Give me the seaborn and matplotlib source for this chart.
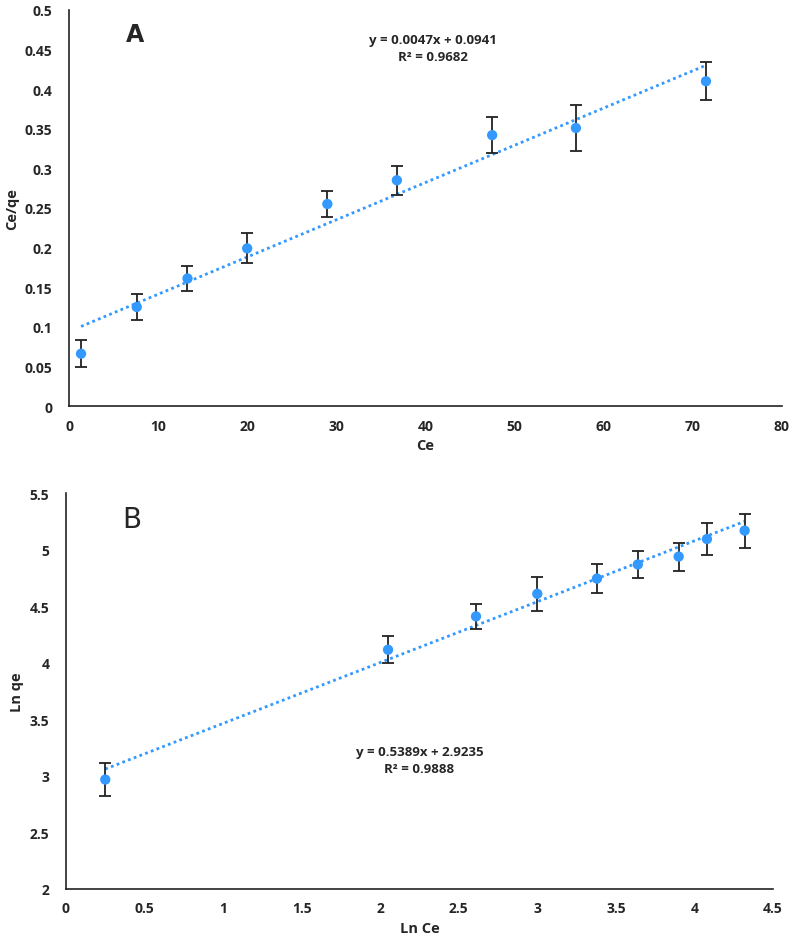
import numpy as np
import pandas as pd
import matplotlib
matplotlib.use('Agg')
import matplotlib.pyplot as plt
import seaborn as sns

# panel A: Langmuir form
ce = [1.35, 7.6, 13.3, 20.0, 29.0, 36.8, 47.5, 56.9, 71.5]
ce_qe = [0.066, 0.125, 0.161, 0.199, 0.255, 0.285, 0.342, 0.351, 0.410]
ce_qe_err = [0.017, 0.017, 0.016, 0.019, 0.017, 0.018, 0.023, 0.029, 0.024]
fit_a = (0.0047, 0.0941)

# panel B: Freundlich form
ln_ce = [0.25, 2.05, 2.61, 3.0, 3.38, 3.64, 3.9, 4.08, 4.32]
ln_qe = [2.965, 4.115, 4.41, 4.61, 4.745, 4.87, 4.94, 5.095, 5.17]
ln_qe_err = [0.145, 0.118, 0.108, 0.15, 0.13, 0.118, 0.124, 0.142, 0.15]
fit_b = (0.5389, 2.9235)

sns.set_theme(style='white')
plt.rcParams['font.family'] = ['Open Sans', 'DejaVu Sans']

blue = '#3399FF'

fig = plt.figure(figsize=(7.96, 9.45), dpi=100)
axA = fig.add_axes([0.0867, 0.5693, 0.8953, 0.4191])
axB = fig.add_axes([0.0829, 0.0587, 0.8881, 0.4182])

def draw(ax, x, y, err, fit, lbl_x, lbl_y, xlim, ylim, xticks, yticks, eq_pos, letter, letter_kw):
	df = pd.DataFrame({'x': x, 'y': y})
	xs = np.array([min(x), max(x)])
	trend = pd.DataFrame({'x': xs, 'y': fit[0] * xs + fit[1]})
	sns.lineplot(data=trend, x='x', y='y', ax=ax, color=blue, lw=2, ls=(0, (1, 1.2)))
	ax.errorbar(x, y, yerr=err, fmt='none', ecolor='#222222', elinewidth=1.3, capsize=4, capthick=1.3, zorder=3)
	sns.scatterplot(data=df, x='x', y='y', ax=ax, color=blue, s=55, edgecolor='none', zorder=4)
	ax.set_xlim(*xlim)
	ax.set_ylim(*ylim)
	ax.set_xticks(xticks)
	ax.set_yticks(yticks)
	ax.set_xticklabels([('%g' % t) for t in xticks], fontweight='bold', fontsize=10)
	ax.set_yticklabels([('%g' % t) for t in yticks], fontweight='bold', fontsize=10)
	ax.tick_params(axis='y', length=0, pad=12)
	ax.tick_params(axis='x', length=0, pad=9)
	ax.set_xlabel(lbl_x, fontweight='bold', fontsize=10.5, labelpad=4)
	ax.set_ylabel(lbl_y, fontweight='bold', fontsize=10.5, labelpad=4)
	for s in ['top', 'right']:
		ax.spines[s].set_visible(False)
	for s in ['left', 'bottom']:
		ax.spines[s].set_color('#222222')
		ax.spines[s].set_linewidth(1.2)
	ax.text(eq_pos[0], eq_pos[1], 'y = %.4fx + %.4f\nR\u00b2 = %s' % (fit[0], fit[1], eq_pos[2]),
		ha='center', va='center', fontsize=9.5, fontweight='bold', linespacing=1.4, transform=ax.transAxes)
	ax.text(0.08, 0.97, letter, transform=ax.transAxes, va='top', **letter_kw)

draw(axA, ce, ce_qe, ce_qe_err, fit_a, 'Ce', 'Ce/qe', (0, 80), (0, 0.5),
	np.arange(0, 81, 10), np.round(np.arange(0, 0.51, 0.05), 2), (0.51, 0.905, '0.9682'), 'A',
	dict(fontsize=17, fontweight='bold', family='DejaVu Sans'))
draw(axB, ln_ce, ln_qe, ln_qe_err, fit_b, 'Ln Ce', 'Ln qe', (0, 4.5), (2, 5.5),
	np.arange(0, 4.51, 0.5), np.arange(2, 5.51, 0.5), (0.5, 0.325, '0.9888'), 'B',
	dict(fontsize=20, family='DejaVu Sans'))

fig.savefig('out.png', dpi=100)
